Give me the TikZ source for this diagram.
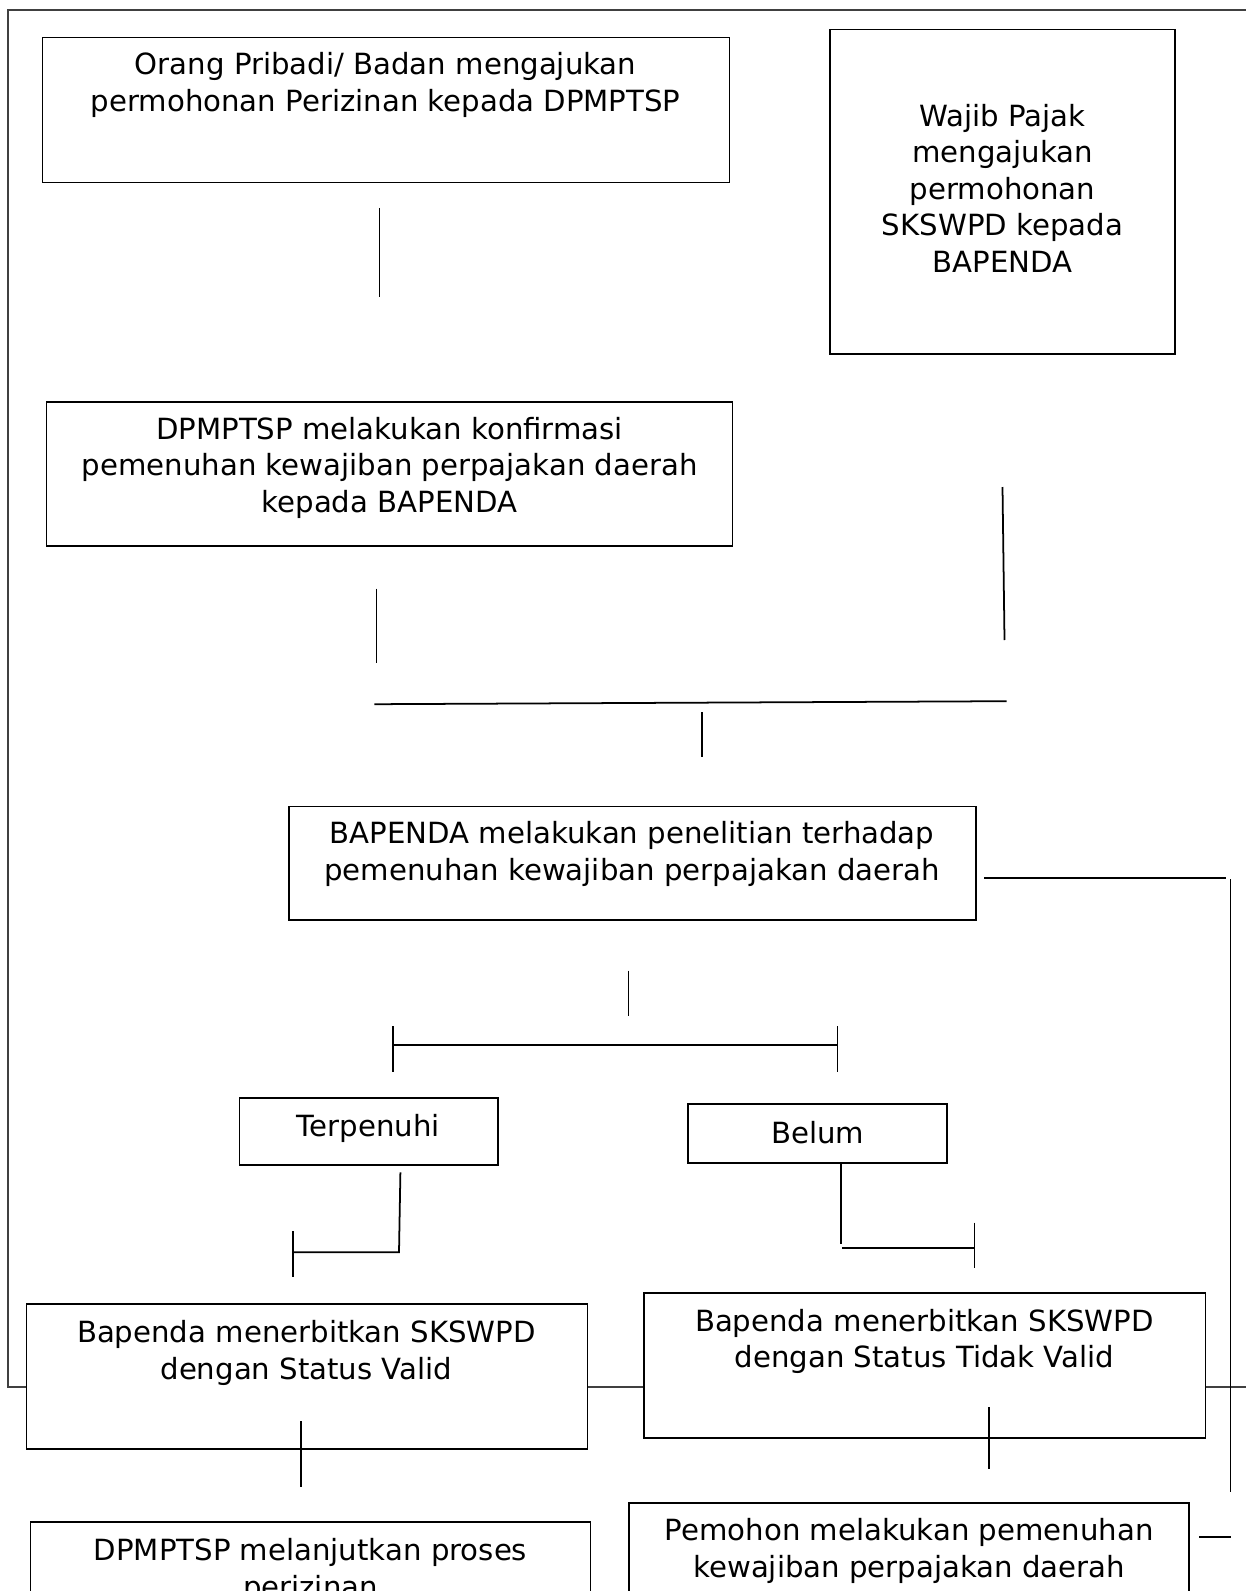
\documentclass[tikz,border=0pt]{standalone}
\usepackage{fontspec}
\setmainfont{DejaVu Sans}
\usetikzlibrary{fit}

\tikzstyle{diabox}=[shape=rectangle, draw, fill=white, inner sep=0pt, line width=0.45pt]
\tikzstyle{diatext}=[align=center, inner sep=0pt, font=\fontsize{8.3}{10.4}\selectfont]
\tikzstyle{diaconn}=[line width=0.5pt]

\begin{document}
\begin{tikzpicture}[x=0.01cm, y=-0.01cm]
        \clip (0,0) rectangle (1246,1591);
        \draw[line width=0.5pt, black!75] (8,10) rectangle (1300,1387);
        % boxes
        \node[diabox, fit={(42.6,37.5) (729.6,182.6)}] (izin) {};
        \node[diabox, fit={(830,29.4) (1175,354)}] (wajib) {};
        \node[diabox, fit={(46.7,401.8) (732.6,545.9)}] (konfirmasi) {};
        \node[diabox, fit={(289,806.7) (976,920)}] (penelitian) {};
        \node[diabox, fit={(239.5,1097.9) (498.2,1164.8)}] (terpenuhi) {};
        \node[diabox, fit={(688,1104) (946.7,1162.8)}] (belum) {};
        \node[diabox, fit={(26.4,1304) (587.5,1449)}] (valid) {};
        \node[diabox, fit={(644,1292.7) (1205.5,1437.8)}] (tidakvalid) {};
        \node[diabox, fit={(30.4,1522) (590.6,1650)}] (lanjut) {};
        \node[diabox, fit={(629,1502.8) (1189,1650)}] (pemenuhan) {};
        % texts
        \node[diatext] (izintxt) at (385.6,85.2) {Orang Pribadi/ Badan mengajukan\\permohonan Perizinan kepada DPMPTSP};
        \node[diatext] (wajibtxt) at (1002.5,188.2) {Wajib Pajak\\mengajukan\\permohonan\\SKSWPD kepada\\BAPENDA};
        \node[diatext] (konfirmasitxt) at (389.6,467.7) {DPMPTSP melakukan konfirmasi\\pemenuhan kewajiban perpajakan daerah\\kepada BAPENDA};
        \node[diatext] (penelitiantxt) at (632,853.8) {BAPENDA melakukan penelitian terhadap\\pemenuhan kewajiban perpajakan daerah};
        \node[diatext] (terpenuhitxt) at (368.3,1128) {Terpenuhi};
        \node[diatext] (belumtxt) at (817.8,1132.4) {Belum};
        \node[diatext] (validtxt) at (306.4,1353) {Bapenda menerbitkan SKSWPD\\dengan Status Valid};
        \node[diatext] (tidakvalidtxt) at (924.4,1341.4) {Bapenda menerbitkan SKSWPD\\dengan Status Tidak Valid};
        \node[diatext] (lanjuttxt) at (310.5,1570.7) {DPMPTSP melanjutkan proses\\perizinan};
        \node[diatext] (pemenuhantxt) at (909.2,1550.9) {Pemohon melakukan pemenuhan\\kewajiban perpajakan daerah};
        % connector ends
        \coordinate (izinA) at (379.5,208);
        \coordinate (izinB) at (379.5,297);
        \coordinate (wajibA) at (1002.5,487);
        \coordinate (wajibB) at (1004.5,640);
        \coordinate (konfA) at (376.5,588.5);
        \coordinate (konfB) at (376.5,662.6);
        \coordinate (joinL) at (374.4,704.2);
        \coordinate (joinR) at (1006.6,701.2);
        \coordinate (joinA) at (702.2,712.3);
        \coordinate (joinB) at (702.2,757);
        \coordinate (telitiR) at (984.3,877.7);
        \coordinate (telitiC) at (1225.7,877.7);
        \coordinate (sideTop) at (1230.5,879);
        \coordinate (sideBot) at (1230.5,1491.6);
        \coordinate (sideL) at (1199,1536.7);
        \coordinate (sideR) at (1230.5,1536.7);
        \coordinate (telitiA) at (628.6,970.7);
        \coordinate (telitiB) at (628.6,1016);
        \coordinate (cabangL) at (392.9,1045.3);
        \coordinate (cabangR) at (837.5,1045.3);
        \coordinate (terpA) at (400.4,1172.3);
        \coordinate (terpB) at (399,1252.3);
        \coordinate (terpC) at (293.3,1252.3);
        \coordinate (belumA) at (841,1164);
        \coordinate (belumB) at (841,1243.7);
        \coordinate (belumC) at (842,1248);
        \coordinate (belumD) at (974.5,1248);
        \coordinate (validA) at (301.3,1421);
        \coordinate (validB) at (301.3,1486.7);
        \coordinate (tidakA) at (988.9,1407);
        \coordinate (tidakB) at (988.9,1469);
        % connectors
        \draw[diaconn] (izinA) -- (izinB);
        \draw[diaconn] (wajibA) -- (wajibB);
        \draw[diaconn] (konfA) -- (konfB);
        \draw[diaconn] (joinL) -- (joinR);
        \draw[diaconn] (joinA) -- (joinB);
        \draw[diaconn] (telitiR) -- (telitiC);
        \draw[diaconn] (sideTop) -- (sideBot);
        \draw[diaconn] (sideL) -- (sideR);
        \draw[diaconn] (telitiA) -- (telitiB);
        \draw[diaconn] (cabangL) -- (cabangR);
        \draw[diaconn] (cabangL) ++(0,-19.3) -- ++(0,45.7);
        \draw[diaconn] (cabangR) ++(0,-19.3) -- ++(0,45.7);
        \draw[diaconn] (terpA) -- (terpB) -- (terpC);
        \draw[diaconn] (terpC) ++(0,-21.3) -- ++(0,46.3);
        \draw[diaconn] (belumA) -- (belumB);
        \draw[diaconn] (belumC) -- (belumD);
        \draw[diaconn] (belumD) ++(0,-25.3) -- ++(0,45.7);
        \draw[diaconn] (validA) -- (validB);
        \draw[diaconn] (tidakA) -- (tidakB);
    \end{tikzpicture}
\end{document}
